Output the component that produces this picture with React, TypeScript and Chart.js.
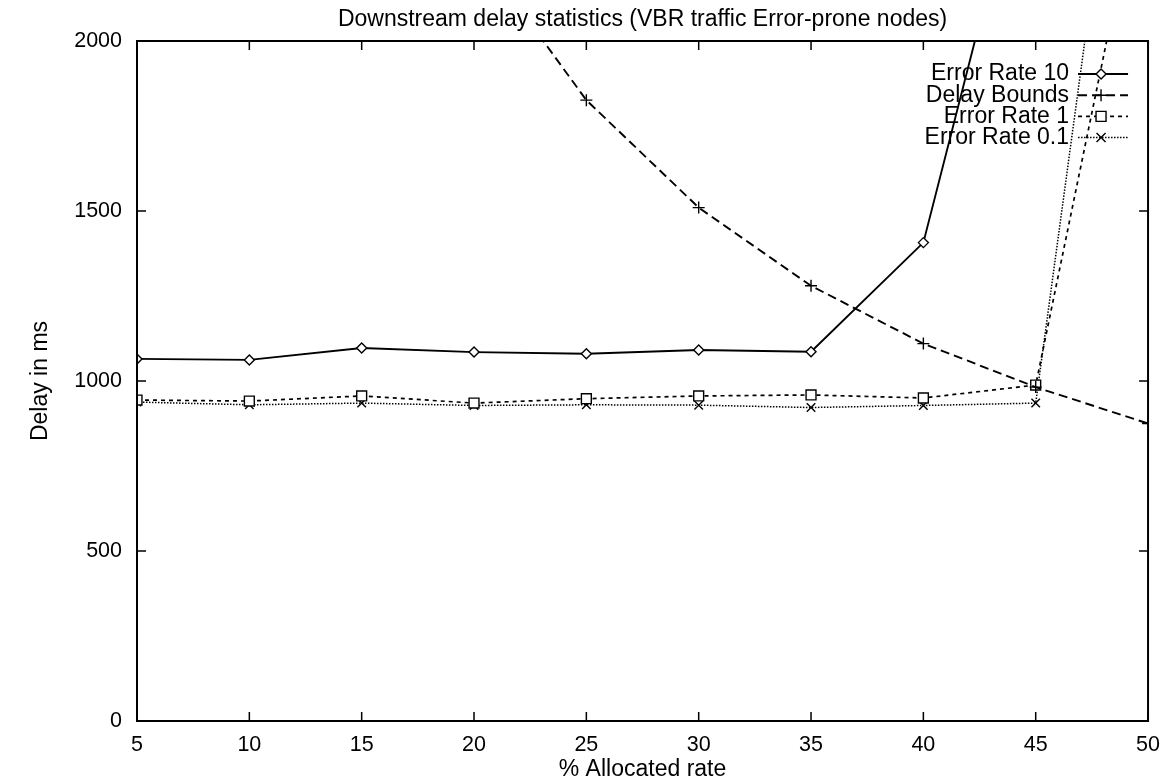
import React, { useEffect, useRef } from "react";
import { Chart, registerables } from "chart.js";

Chart.register(...registerables);

const TITLE = "Downstream delay statistics (VBR traffic Error-prone nodes)";
const X_TITLE = "% Allocated rate";
const Y_TITLE = "Delay in ms";

const allocatedRate = [5, 10, 15, 20, 25, 30, 35, 40, 45, 50];
const errorRate10 = [1065, 1062, 1097, 1085, 1080, 1091, 1086, 1407, 2700, null];
const delayBounds = [9000, 4500, 3000, 2280, 1826, 1510, 1280, 1110, 982, 875];
const errorRate1 = [944, 941, 956, 935, 948, 956, 959, 950, 988, 2590];
const errorRate01 = [938, 930, 935, 928, 930, 929, 922, 928, 935, 3370];

const seriesLabels = ["Error Rate 10", "Delay Bounds", "Error Rate 1", "Error Rate 0.1"];

const FONT = '"Liberation Sans", Arial, Helvetica, sans-serif';

function drawMarker(ctx: CanvasRenderingContext2D, style: string, x: number, y: number) {
  ctx.beginPath();
  if (style === "rectRot") {
    const r = 5;
    ctx.moveTo(x, y - r);
    ctx.lineTo(x + r, y);
    ctx.lineTo(x, y + r);
    ctx.lineTo(x - r, y);
    ctx.closePath();
    ctx.fillStyle = "#fff";
    ctx.fill();
    ctx.stroke();
  } else if (style === "cross") {
    const r = 6;
    ctx.moveTo(x - r, y);
    ctx.lineTo(x + r, y);
    ctx.moveTo(x, y - r);
    ctx.lineTo(x, y + r);
    ctx.stroke();
  } else if (style === "rect") {
    const r = 5;
    ctx.rect(x - r, y - r, 2 * r, 2 * r);
    ctx.fillStyle = "#fff";
    ctx.fill();
    ctx.stroke();
  } else if (style === "crossRot") {
    const r = 4.5;
    ctx.moveTo(x - r, y - r);
    ctx.lineTo(x + r, y + r);
    ctx.moveTo(x - r, y + r);
    ctx.lineTo(x + r, y - r);
    ctx.stroke();
  }
}

const overlayPlugin = {
  id: "overlay",
  afterDraw(chart: any) {
    const { ctx, chartArea: a, scales } = chart;
    ctx.save();
    ctx.strokeStyle = "#000";
    ctx.fillStyle = "#000";
    ctx.lineWidth = 2;
    ctx.setLineDash([]);
    ctx.strokeRect(a.left, a.top, a.right - a.left, a.bottom - a.top);

    const TL = 9;
    ctx.lineWidth = 1.5;
    ctx.beginPath();
    scales.x.ticks.forEach((t: any) => {
      const px = scales.x.getPixelForValue(t.value);
      ctx.moveTo(px, a.bottom);
      ctx.lineTo(px, a.bottom - TL);
      ctx.moveTo(px, a.top);
      ctx.lineTo(px, a.top + TL);
    });
    scales.y.ticks.forEach((t: any) => {
      const py = scales.y.getPixelForValue(t.value);
      ctx.moveTo(a.left, py);
      ctx.lineTo(a.left + TL, py);
      ctx.moveTo(a.right, py);
      ctx.lineTo(a.right - TL, py);
    });
    ctx.stroke();

    ctx.font = `23px ${FONT}`;
    ctx.textAlign = "center";
    ctx.textBaseline = "middle";
    ctx.fillText(TITLE, (a.left + a.right) / 2, 20);

    chart.data.datasets.forEach((ds: any, i: number) => {
      const y = a.top + 33 + i * 21.2;
      ctx.fillStyle = "#000";
      ctx.textAlign = "right";
      ctx.fillText(ds.label, a.right - 79, y);
      ctx.strokeStyle = "#000";
      ctx.lineWidth = ds.borderWidth;
      ctx.setLineDash(ds.borderDash || []);
      ctx.beginPath();
      ctx.moveTo(a.right - 70, y);
      ctx.lineTo(a.right - 20, y);
      ctx.stroke();
      ctx.setLineDash([]);
      ctx.lineWidth = 1.4;
      drawMarker(ctx, ds.pointStyle, a.right - 47, y);
    });
    ctx.restore();
  },
};

export default function App() {
  const ref = useRef<HTMLCanvasElement>(null);

  useEffect(() => {
    const canvas = ref.current!;
    const mk = (ys: (number | null)[]) => allocatedRate.map((x, i) => ({ x, y: ys[i] }));
    const common = {
      borderColor: "#000",
      pointBorderColor: "#000",
      pointBackgroundColor: "#fff",
      pointBorderWidth: 1.4,
      tension: 0,
      fill: false,
    };
    const chart = new Chart(canvas, {
      type: "line",
      data: {
        datasets: [
          { ...common, label: seriesLabels[0], data: mk(errorRate10), borderWidth: 1.9, borderDash: [], pointStyle: "rectRot", pointRadius: 5 },
          { ...common, label: seriesLabels[1], data: mk(delayBounds), borderWidth: 1.9, borderDash: [9, 5], pointStyle: "cross", pointRadius: 6 },
          { ...common, label: seriesLabels[2], data: mk(errorRate1), borderWidth: 1.7, borderDash: [4, 4], pointStyle: "rect", pointRadius: 7 },
          { ...common, label: seriesLabels[3], data: mk(errorRate01), borderWidth: 1.5, borderDash: [1.5, 1.5], pointStyle: "crossRot", pointRadius: 6 },
        ] as any,
      },
      options: {
        animation: false,
        responsive: false,
        maintainAspectRatio: false,
        layout: { padding: { top: 41, right: 21, bottom: 0, left: 0 } },
        plugins: {
          legend: { display: false },
          title: { display: false },
          tooltip: { enabled: false },
        },
        scales: {
          x: {
            type: "linear",
            min: 5,
            max: 50,
            grid: { display: false, drawTicks: false },
            border: { display: false },
            ticks: {
              stepSize: 5,
              color: "#000",
              font: { family: FONT, size: 21.5 },
              padding: 11,
              maxRotation: 0,
              autoSkip: false,
              callback: (v: any) => String(v),
            },
            title: {
              display: true,
              text: X_TITLE,
              color: "#000",
              font: { family: FONT, size: 23 },
              padding: { top: 0, bottom: 0 },
            },
            afterFit: (s: any) => {
              s.height = 62;
            },
          },
          y: {
            type: "linear",
            min: 0,
            max: 2000,
            grid: { display: false, drawTicks: false },
            border: { display: false },
            ticks: {
              stepSize: 500,
              color: "#000",
              font: { family: FONT, size: 21.5 },
              padding: 15,
              callback: (v: any) => String(v),
            },
            title: {
              display: true,
              text: Y_TITLE,
              color: "#000",
              font: { family: FONT, size: 23 },
              padding: { top: 27, bottom: 0 },
            },
            afterFit: (s: any) => {
              s.width = 137;
            },
          },
        },
      } as any,
      plugins: [overlayPlugin],
    });
    return () => chart.destroy();
  }, []);

  return (
    <div style={{ position: "fixed", left: 0, top: 0, width: 1171, height: 783, background: "#fff" }}>
      <canvas ref={ref} width={1171} height={783} style={{ width: 1171, height: 783, display: "block" }} />
    </div>
  );
}
